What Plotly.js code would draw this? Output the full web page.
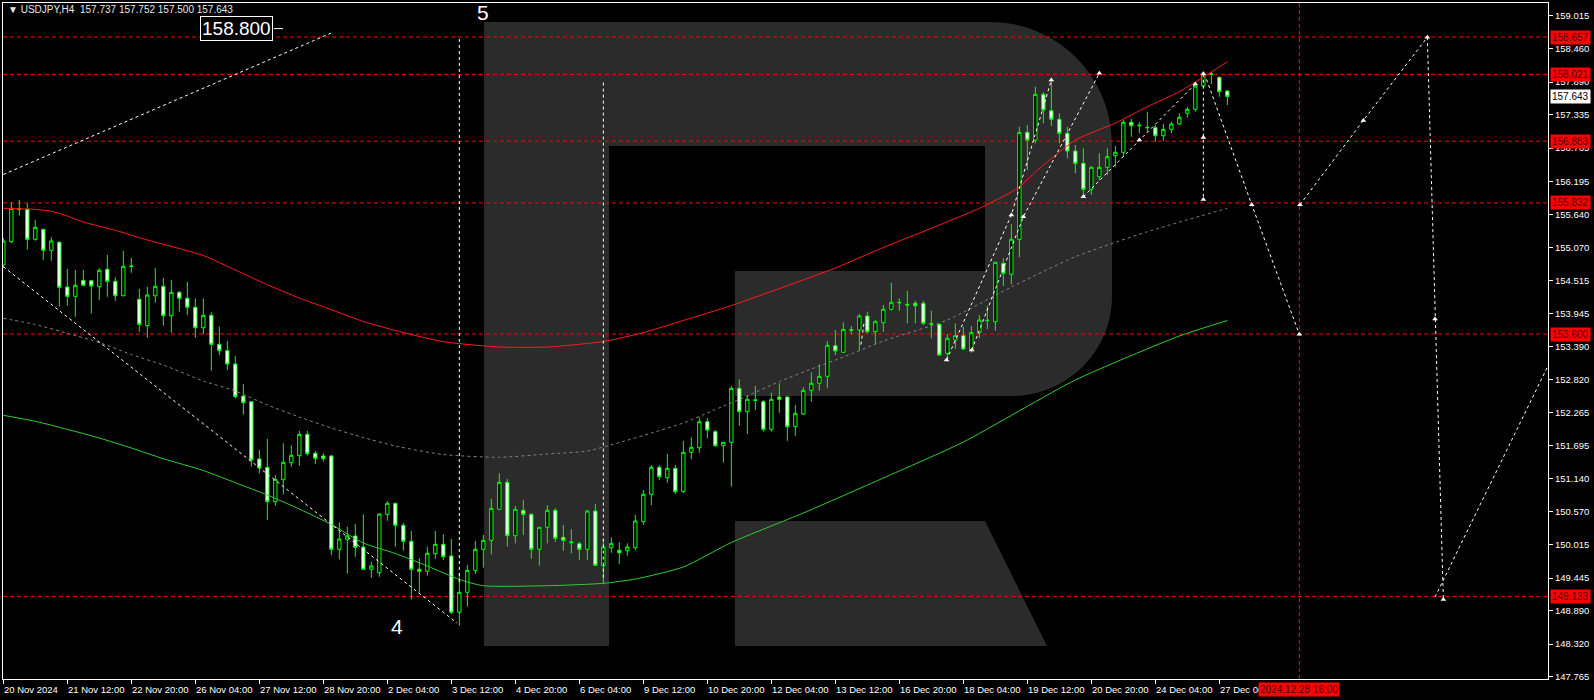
<!DOCTYPE html>
<html><head><meta charset="utf-8">
<script src="https://cdn.plot.ly/plotly-3.0.1.min.js"></script>
<style>html,body{margin:0;padding:0;background:#000;overflow:hidden}#chart{width:1594px;height:700px}</style>
</head><body><div id="chart"></div>
<script>
// ---- tick labels ----
const xTickLabels = ['20 Nov 2024','21 Nov 12:00','22 Nov 20:00','26 Nov 04:00','27 Nov 12:00','28 Nov 20:00','2 Dec 04:00','3 Dec 12:00','4 Dec 20:00','6 Dec 04:00','9 Dec 12:00','10 Dec 20:00','12 Dec 04:00','13 Dec 12:00','16 Dec 20:00','18 Dec 04:00','19 Dec 12:00','20 Dec 20:00','24 Dec 04:00','27 Dec 00:00'];
const xTickBars = [0,8,16,24,32,40,48,56,64,72,80,88,96,104,112,120,128,136,144,152];
const yTickValues = ['159.015','158.460','157.890','157.335','156.765','156.195','155.640','155.070','154.515','153.945','153.390','152.820','152.265','151.695','151.140','150.570','150.015','149.445','148.890','148.320','147.765'];

// ---- USDJPY H4 candles ----
const open = [154.775,155.172,155.730,155.723,155.212,155.383,155.025,155.161,154.400,154.242,154.514,154.507,154.405,154.702,154.497,154.252,154.758,154.191,153.741,154.252,154.412,153.912,154.310,154.208,154.055,153.707,153.918,153.425,153.316,153.089,152.544,152.447,151.472,151.330,150.745,151.119,151.409,151.528,151.892,151.569,151.523,151.523,149.934,150.104,150.161,149.973,149.594,149.536,150.530,150.717,150.343,150.070,149.594,149.560,149.859,150.019,149.820,148.862,149.202,149.576,149.934,150.087,150.615,151.075,150.166,150.598,150.530,149.934,150.309,150.598,150.138,150.046,150.029,149.934,150.586,149.655,149.961,149.917,149.910,149.961,150.404,150.871,151.330,151.153,151.313,150.915,151.586,151.664,152.107,151.937,151.698,151.756,152.675,152.277,152.471,152.447,151.977,152.527,152.527,152.022,152.238,152.641,152.761,152.880,153.401,153.288,153.663,153.668,153.906,153.639,153.792,154.021,154.140,154.106,154.123,154.123,153.775,153.765,153.271,153.498,153.571,153.328,153.622,153.827,153.809,154.804,154.617,155.212,157.034,156.903,157.681,157.402,157.256,157.017,156.716,156.506,156.064,156.278,156.438,156.636,156.694,157.205,157.147,157.119,157.113,156.976,157.085,157.176,157.358,157.426,157.823,158.022,157.971,157.737];
const high = [155.235,155.842,155.882,155.825,155.541,155.388,155.247,155.184,154.707,154.690,154.690,154.519,154.719,154.945,154.565,155.013,154.894,154.366,154.400,154.724,154.559,154.519,154.332,154.485,154.208,154.208,153.969,153.724,153.481,153.225,152.749,152.460,151.625,151.812,151.199,151.739,151.705,151.948,151.948,151.608,151.569,151.540,150.394,150.314,150.365,150.530,149.723,150.547,150.756,150.725,150.387,150.246,149.781,149.978,150.246,150.189,150.109,149.525,149.667,150.075,150.178,150.791,151.228,151.131,150.671,150.774,150.547,150.314,150.688,150.632,150.348,150.275,150.063,150.603,150.705,150.109,150.138,150.053,150.036,150.518,150.944,151.369,151.369,151.557,151.369,151.778,151.841,152.182,152.170,151.965,151.756,152.715,152.829,152.561,152.715,152.476,152.600,152.761,152.549,152.391,152.692,152.948,153.084,153.481,153.668,153.799,153.736,153.940,153.980,153.838,154.094,154.473,154.208,154.332,154.167,154.167,153.997,153.770,153.600,153.782,153.724,153.736,153.924,154.082,154.830,154.889,155.468,157.130,157.159,157.811,157.715,157.937,157.358,157.130,156.818,156.762,156.460,156.677,156.762,156.801,157.244,157.261,157.205,157.385,157.159,157.176,157.215,157.358,157.470,157.869,158.066,158.061,157.981,157.752];
const low = [154.724,155.144,155.614,155.042,155.189,154.860,154.848,154.065,154.082,153.894,154.417,153.952,154.179,154.235,154.167,154.240,154.644,153.639,153.537,154.133,153.741,153.622,153.980,153.918,153.537,153.595,152.975,153.243,152.987,152.505,152.226,151.340,151.228,150.433,150.676,150.870,151.340,151.357,151.528,151.386,151.426,149.837,149.764,149.519,149.808,149.582,149.451,149.468,150.421,149.978,149.910,149.083,149.195,149.485,149.774,149.752,148.833,148.633,148.957,149.514,149.621,149.849,150.603,149.978,150.036,150.178,149.774,149.655,150.036,150.063,149.910,149.866,149.752,149.752,149.655,149.338,149.876,149.684,149.825,149.922,150.348,150.688,151.114,151.068,150.876,150.898,151.466,151.579,151.824,151.681,151.409,151.000,152.039,151.897,152.306,151.937,151.937,152.260,151.783,151.863,152.221,152.447,152.634,152.675,153.242,153.277,153.600,153.316,153.612,153.430,153.639,153.997,153.997,153.782,153.782,153.753,153.527,153.230,153.157,153.345,153.328,153.282,153.527,153.680,153.656,154.417,154.446,154.906,156.393,156.847,157.188,157.142,156.847,156.592,156.336,155.938,155.967,156.222,156.307,156.449,156.619,156.959,157.017,157.045,156.874,156.886,157.017,157.159,157.283,157.385,157.801,157.857,157.640,157.500];
const close = [155.184,155.740,155.725,155.212,155.417,155.025,155.184,154.395,154.242,154.429,154.429,154.417,154.685,154.497,154.252,154.753,154.753,153.765,154.264,154.412,153.912,154.310,154.208,154.055,153.707,153.918,153.425,153.316,153.089,152.532,152.430,151.455,151.324,150.745,151.126,151.415,151.535,151.892,151.562,151.483,151.477,149.934,150.110,150.161,149.968,149.594,149.650,150.535,150.717,150.343,150.070,149.594,149.560,149.866,150.019,149.808,148.862,149.202,149.576,149.934,150.087,150.632,151.075,150.166,150.615,150.530,149.934,150.309,150.598,150.121,150.087,150.058,149.934,150.586,149.662,149.973,150.036,149.876,149.973,150.416,150.871,151.330,151.170,151.313,150.915,151.586,151.671,152.107,151.965,151.698,151.756,152.675,152.277,152.488,152.476,151.977,152.488,152.488,152.022,152.250,152.641,152.761,152.880,153.408,153.311,153.680,153.673,153.906,153.639,153.809,154.021,154.140,154.133,154.094,154.082,153.782,153.770,153.242,153.527,153.571,153.345,153.622,153.838,153.833,154.821,154.634,155.212,157.034,156.903,157.681,157.414,157.256,157.017,156.716,156.506,156.064,156.438,156.438,156.619,156.694,157.205,157.147,157.153,157.113,156.976,157.085,157.176,157.290,157.426,157.823,158.027,158.027,157.726,157.643];

// ---- moving averages (bar index, price) ----
const maRedBar = [0,4,6,8,10,14,18,22,25,29,33,37,41,45,49,55,62,68,75,80,85,91,98,104,110,116,122,126,127,129,131,134,139,143,147,153];
const maRedVal = [155.740,155.723,155.690,155.609,155.507,155.366,155.201,155.056,154.937,154.690,154.440,154.213,154.014,153.813,153.660,153.469,153.379,153.379,153.472,153.624,153.830,154.085,154.422,154.724,155.073,155.400,155.740,156.018,156.103,156.358,156.588,156.903,157.193,157.470,157.726,158.236];
const maGreenBar = [0,4,8,12,16,20,25,29,33,37,41,45,49,53,57,60,68,75,79,85,91,100,110,120,134,147,153];
const maGreenVal = [152.216,152.114,151.977,151.829,151.659,151.477,151.276,151.068,150.859,150.620,150.357,150.041,149.863,149.650,149.420,149.314,149.314,149.355,149.428,149.633,150.050,150.552,151.148,151.761,152.817,153.566,153.830];
const maGrayBar = [0,4,8,12,16,20,25,29,33,37,41,45,49,55,62,68,73,77,81,85,89,93,97,101,105,110,118,126,134,143,153];
const maGrayVal = [153.867,153.762,153.612,153.455,153.251,153.072,152.800,152.629,152.391,152.187,151.999,151.838,151.693,151.548,151.501,151.557,151.608,151.752,151.914,152.085,152.314,152.544,152.791,153.004,153.208,153.481,153.838,154.400,154.916,155.342,155.740];

// ---- horizontal levels ----
const levels = [158.657, 158.021, 156.883, 155.832, 153.600, 149.133];
const lastPrice = 157.643;
const markLevel = 158.800;
const forecastBar = 162;
const forecastLabel = '2024.12.28 16:00';

// ---- wave / forecast lines (bar index, price) ----
const waves = [
  {x:[0,41], y:[156.316,158.725]},
  {x:[0,56.7], y:[154.746,148.680]},
  {x:[57,57], y:[158.623,149.326]},
  {x:[75,75], y:[157.881,149.411]},
  {x:[107.2,107.6], y:[153.42,153.80]},
  {x:[117.9,126.0,131.0], y:[153.157,155.626,157.925]},
  {x:[121.05,127.5,137.0], y:[153.328,155.597,158.039]},
  {x:[135,142,149], y:[155.938,156.903,157.857]},
  {x:[150,150,150], y:[158.032,156.946,155.892]},
  {x:[150.4,156.05,162], y:[157.935,155.802,153.595]},
  {x:[162.08,170,178], y:[155.802,157.237,158.654]},
  {x:[178,178.96,180], y:[158.654,153.855,149.079]},
  {x:[178.96,193.3], y:[149.122,153.12]}
];
const waveNodeBar = [117.9,126.0,131.0,121.05,127.5,137,135,142,149,150,150,150,156.05,162,162.08,170,178,178.96,180];
const waveNodeVal = [153.157,155.626,157.925,153.328,155.597,158.039,155.938,156.903,157.857,158.032,156.946,155.892,155.802,153.595,155.802,157.237,158.654,153.855,149.079];

// ---- layout geometry (pixels -> paper) ----
const L = 3, T = 3, W = 1545, H = 676;
const px = x => (x - L) / W;
const py = y => (T + H - y) / H;
const P = (x, y) => px(x).toFixed(5) + ',' + py(y).toFixed(5);
const FONT = 'Liberation Sans, Arial, sans-serif';
const bars = open.map((_, i) => i);

const traces = [];
traces.push({type:'scatter', mode:'lines', x:maGrayBar, y:maGrayVal, line:{color:'#808080', width:1, dash:'3px,3px', shape:'spline', smoothing:0.6}, hoverinfo:'skip'});
traces.push({type:'scatter', mode:'lines', x:maRedBar, y:maRedVal, line:{color:'#ff1a1a', width:1, shape:'spline', smoothing:0.6}, hoverinfo:'skip'});
traces.push({type:'scatter', mode:'lines', x:maGreenBar, y:maGreenVal, line:{color:'#32cd32', width:1, shape:'spline', smoothing:0.6}, hoverinfo:'skip'});
traces.push({type:'candlestick', x:bars, open:open, high:high, low:low, close:close,
  increasing:{line:{color:'#00ff00', width:1}, fillcolor:'#000000'},
  decreasing:{line:{color:'#00ff00', width:1}, fillcolor:'#ffffff'},
  whiskerwidth:0, hoverinfo:'skip'});
waves.forEach(w => traces.push({type:'scatter', mode:'lines', x:w.x, y:w.y, line:{color:'#ffffff', width:1, dash:'3px,3px'}, hoverinfo:'skip'}));
traces.push({type:'scatter', mode:'markers', x:waveNodeBar, y:waveNodeVal, marker:{symbol:'triangle-up', size:5, color:'#ffffff'}, hoverinfo:'skip'});

// ---- shapes ----
const shapes = [];
const GRAYR = '#2b2b2b';
const k = 0.5523;
const r1 = 122, r2 = 100;
shapes.push({type:'path', xref:'paper', yref:'paper', layer:'below', line:{width:0}, fillcolor:GRAYR,
  path:'M'+P(484,22)+' L'+P(609,22)+' L'+P(609,646)+' L'+P(484,646)+' Z'});
shapes.push({type:'path', xref:'paper', yref:'paper', layer:'below', line:{width:0}, fillcolor:GRAYR,
  path:'M'+P(605,22)+' L'+P(1112-r1,22)+' C'+P(1112-r1+k*r1,22)+' '+P(1112,22+r1-k*r1)+' '+P(1112,22+r1)+
       ' L'+P(1112,396-r2)+' C'+P(1112,396-r2+k*r2)+' '+P(1112-r2+k*r2,396)+' '+P(1112-r2,396)+
       ' L'+P(735,396)+' L'+P(735,271)+' L'+P(985,271)+' L'+P(985,146)+' L'+P(605,146)+' Z'});
shapes.push({type:'path', xref:'paper', yref:'paper', layer:'below', line:{width:0}, fillcolor:GRAYR,
  path:'M'+P(735,521)+' L'+P(985,521)+' L'+P(1047,646)+' L'+P(735,646)+' Z'});
levels.forEach(v => shapes.push({type:'line', xref:'paper', x0:0, x1:1, yref:'y', y0:v, y1:v, layer:'below', line:{color:'#ff0000', width:1, dash:'4px,3px'}}));
shapes.push({type:'line', xref:'x', x0:forecastBar, x1:forecastBar, yref:'paper', y0:0, y1:1, layer:'below', line:{color:'#ff0000', width:1, dash:'4px,3px'}});
shapes.push({type:'line', xref:'paper', x0:px(274), x1:px(283), yref:'y', y0:markLevel, y1:markLevel, line:{color:'#ffffff', width:1}});

// ---- annotations ----
const ann = [];
xTickBars.forEach((b, i) => ann.push({xref:'x', yref:'paper', x:b, y:py(689), xanchor:'left', yanchor:'middle', xshift:-1, showarrow:false,
  text:xTickLabels[i], font:{family:FONT, size:9.5, color:'#ffffff'}}));
ann.push({xref:'paper', yref:'paper', x:px(6), y:py(10), xanchor:'left', yanchor:'middle', showarrow:false,
  text:'▼ USDJPY,H4\u00A0\u00A0157.737 157.752 157.500 157.643', font:{family:FONT, size:10, color:'#e6e6e6'}});
ann.push({xref:'paper', yref:'y', x:px(236.5), y:markLevel, xanchor:'center', yanchor:'middle', showarrow:false,
  text:markLevel.toFixed(3), font:{family:FONT, size:19, color:'#ffffff'}, bgcolor:'#000000', bordercolor:'#ffffff', borderwidth:1, borderpad:1});
ann.push({xref:'paper', yref:'paper', x:px(483), y:py(13), xanchor:'center', yanchor:'middle', showarrow:false,
  text:'5', font:{family:FONT, size:21, color:'#ffffff'}});
ann.push({xref:'paper', yref:'paper', x:px(397), y:py(626), xanchor:'center', yanchor:'middle', showarrow:false,
  text:'4', font:{family:FONT, size:21, color:'#ffffff'}});
levels.forEach(v => ann.push({xref:'paper', yref:'y', x:1, y:v, xanchor:'left', yanchor:'middle', xshift:2, showarrow:false,
  text:v.toFixed(3), bgcolor:'#ff0000', borderpad:1, font:{family:FONT, size:10, color:'#4d0000'}}));
ann.push({xref:'paper', yref:'y', x:1, y:lastPrice, xanchor:'left', yanchor:'middle', xshift:2, showarrow:false,
  text:lastPrice.toFixed(3), bgcolor:'#ffffff', borderpad:1, font:{family:FONT, size:10, color:'#000000'}});
ann.push({xref:'x', yref:'paper', x:forecastBar, y:py(689), xanchor:'center', yanchor:'middle', showarrow:false,
  text:forecastLabel, bgcolor:'#ff0000', borderpad:1, font:{family:FONT, size:10, color:'#4d0000'}});

const layout = {
  width:1594, height:700, margin:{l:L, r:1594-L-W, t:T, b:700-T-H, pad:0},
  paper_bgcolor:'#000000', plot_bgcolor:'#000000', showlegend:false, boxgap:0.4,
  xaxis:{range:[-0.04,193.08], showgrid:false, zeroline:false, showline:true, mirror:true, linecolor:'#ffffff', linewidth:1,
    ticks:'outside', ticklen:4, tickcolor:'#ffffff', tickvals:xTickBars, showticklabels:false,
    rangeslider:{visible:false}, fixedrange:true},
  yaxis:{range:[147.726,159.236], side:'right', showgrid:false, zeroline:false, showline:true, mirror:true, linecolor:'#ffffff', linewidth:1,
    ticks:'outside', ticklen:4, tickcolor:'#ffffff', tickvals:yTickValues.map(Number), ticktext:yTickValues,
    tickfont:{family:FONT, size:9.5, color:'#ffffff'}, fixedrange:true},
  shapes:shapes, annotations:ann
};
Plotly.newPlot('chart', traces, layout, {displayModeBar:false, staticPlot:true});
</script></body></html>
